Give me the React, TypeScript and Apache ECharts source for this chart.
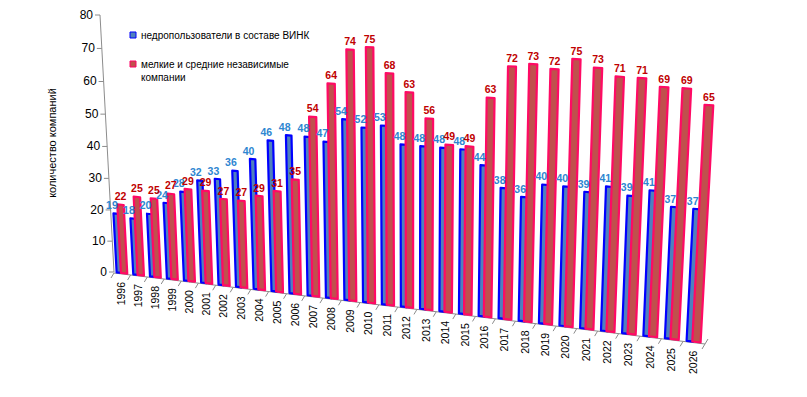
import React, { useEffect, useRef } from "react";
import * as echarts from "echarts";

const years = [
  "1996", "1997", "1998", "1999", "2000", "2001", "2002", "2003", "2004", "2005", "2006",
  "2007", "2008", "2009", "2010", "2011", "2012", "2013", "2014", "2015", "2016", "2017",
  "2018", "2019", "2020", "2021", "2022", "2023", "2024", "2025", "2026",
];
const vinkValues = [19, 18, 20, 24, 28, 32, 33, 36, 40, 46, 48, 48, 47, 54, 52, 53, 48, 48, 48, 48, 44, 38, 36, 40, 40, 39, 41, 39, 41, 37, 37];
const independentValues = [22, 25, 25, 27, 29, 29, 27, 27, 29, 31, 35, 54, 64, 74, 75, 68, 63, 56, 49, 49, 63, 72, 73, 72, 75, 73, 71, 71, 69, 69, 65];
const yTicks = [0, 10, 20, 30, 40, 50, 60, 70, 80];
const seriesNames = ["недропользователи в составе ВИНК", "мелкие и средние независимые компании"];
const legendLines = [["недропользователи в составе ВИНК"], ["мелкие и средние независимые", "компании"]];
const axisTitle = "количество компаний";

// perspective plane corners (layout): (u,v) unit square -> screen quad
const Q = { x0: 114, y0: 272, x1: 705, y1: 343, x2: 721, y2: 48, x3: 100, y3: 15 };

function makeHomography(q: typeof Q) {
  const { x0, y0, x1, y1, x2, y2, x3, y3 } = q;
  const dx1 = x1 - x2, dx2 = x3 - x2, dx3 = x0 - x1 + x2 - x3;
  const dy1 = y1 - y2, dy2 = y3 - y2, dy3 = y0 - y1 + y2 - y3;
  const den = dx1 * dy2 - dx2 * dy1;
  const g = (dx3 * dy2 - dx2 * dy3) / den;
  const h = (dx1 * dy3 - dx3 * dy1) / den;
  const a = x1 - x0 + g * x1, b = x3 - x0 + h * x3, c = x0;
  const d = y1 - y0 + g * y1, e = y3 - y0 + h * y3, f = y0;
  return (u: number, v: number): [number, number] => {
    const w = g * u + h * v + 1;
    return [(a * u + b * v + c) / w, (d * u + e * v + f) / w];
  };
}
const H = makeHomography(Q);

const FONT = '"Liberation Sans", Arial, sans-serif';

function toUV(cs: any, p: number[]) {
  return [(p[0] - cs.x) / cs.width, (cs.y + cs.height - p[1]) / cs.height];
}

function barGeom(params: any, api: any, offStart: number, offEnd: number) {
  const cs = params.coordSys;
  const idx = api.value(0);
  const val = api.value(1);
  const base = api.coord([idx, 0]);
  const top = api.coord([idx, val]);
  const band = api.size([1, 0])[0];
  const uStart = (base[0] - band / 2 - cs.x) / cs.width;
  const du = band / cs.width;
  const uL = uStart + offStart * du;
  const uR = uStart + offEnd * du;
  const vTop = toUV(cs, top)[1];
  return { val, uL, uR, vTop };
}

function barRenderer(offStart: number, offEnd: number, fill: string, stroke: string) {
  return (params: any, api: any) => {
    const { uL, uR, vTop } = barGeom(params, api, offStart, offEnd);
    const pts = [H(uL, 0), H(uR, 0), H(uR, vTop), H(uL, vTop)];
    return {
      type: "polygon",
      shape: { points: pts },
      style: { fill, stroke, lineWidth: 2.2, lineJoin: "round" },
    };
  };
}

function labelRenderer(offStart: number, offEnd: number, color: string, dx: number) {
  return (params: any, api: any) => {
    const { val, uL, uR, vTop } = barGeom(params, api, offStart, offEnd);
    const lp = H((uL + uR) / 2, vTop);
    return {
      type: "text",
      x: lp[0] + dx,
      y: lp[1] - 3,
      style: {
        text: String(val),
        fill: color,
        font: `bold 10.5px ${FONT}`,
        align: "center",
        verticalAlign: "bottom",
      },
    };
  };
}

function yAxisRenderer(params: any, api: any) {
  const cs = params.coordSys;
  const t = api.value(1);
  const v = toUV(cs, api.coord([0, t]))[1];
  const p = H(0, v);
  const children: any[] = [
    { type: "line", shape: { x1: p[0] - 5, y1: p[1], x2: p[0], y2: p[1] }, style: { stroke: "#8c8c8c", lineWidth: 1 } },
    {
      type: "text",
      x: p[0] - 7,
      y: p[1],
      style: { text: String(t), fill: "#000", font: `12px ${FONT}`, align: "right", verticalAlign: "middle" },
    },
  ];
  if (params.dataIndex === 0) {
    const a = H(0, 0), b = H(0, 1);
    children.push({ type: "line", shape: { x1: a[0], y1: a[1], x2: b[0], y2: b[1] }, style: { stroke: "#8c8c8c", lineWidth: 1 } });
  }
  return { type: "group", children };
}

function xAxisRenderer(params: any, api: any) {
  const cs = params.coordSys;
  const idx = api.value(0);
  const c = api.coord([idx, 0]);
  const band = api.size([1, 0])[0];
  const uC = (c[0] - cs.x) / cs.width;
  const uEdge = (c[0] + band / 2 - cs.x) / cs.width;
  const pc = H(uC, 0);
  const pe = H(uEdge, 0);
  const children: any[] = [
    { type: "line", shape: { x1: pe[0], y1: pe[1] + 1, x2: pe[0] - 3, y2: pe[1] + 6 }, style: { stroke: "#8c8c8c", lineWidth: 1 } },
    {
      type: "text",
      x: pc[0] - 1,
      y: pc[1] + 9,
      rotation: Math.PI / 2,
      style: { text: years[idx], fill: "#000", font: `10.5px ${FONT}`, align: "right", verticalAlign: "middle" },
    },
  ];
  if (params.dataIndex === 0) {
    const a = H(0, 0), b = H(1, 0);
    children.push({ type: "line", shape: { x1: a[0], y1: a[1] + 1, x2: b[0], y2: b[1] + 1 }, style: { stroke: "#8c8c8c", lineWidth: 1 } });
    children.push({ type: "line", shape: { x1: b[0], y1: b[1] + 1, x2: b[0] + 3, y2: b[1] - 4 }, style: { stroke: "#8c8c8c", lineWidth: 1 } });
    const a0 = H(0, 0);
    children.push({ type: "line", shape: { x1: a0[0], y1: a0[1] + 1, x2: a0[0] - 3, y2: a0[1] + 6 }, style: { stroke: "#8c8c8c", lineWidth: 1 } });
  }
  return { type: "group", children };
}

const BLUE_OFF: [number, number] = [0.16, 0.46];
const RED_OFF: [number, number] = [0.42, 0.8];

export default function App() {
  const ref = useRef<HTMLDivElement>(null);
  useEffect(() => {
    if (!ref.current) return;
    const chart = echarts.init(ref.current, null, { renderer: "svg" });
    const blueColor = "#4F81BD";
    const redColor = "#C0504D";
    chart.setOption({
      animation: false,
      backgroundColor: "#ffffff",
      grid: { left: 0, right: 0, top: 0, bottom: 0 },
      xAxis: { type: "category", data: years, show: false },
      yAxis: { type: "value", min: 0, max: 80, interval: 10, show: false },
      graphic: [
        { type: "rect", shape: { x: 130, y: 32, width: 6, height: 6 }, style: { fill: blueColor, stroke: "#0000FF", lineWidth: 1 } },
        { type: "text", x: 141, y: 35, style: { text: legendLines[0][0], fill: "#000", font: `10px ${FONT}`, align: "left", verticalAlign: "middle" } },
        { type: "rect", shape: { x: 130, y: 61, width: 6, height: 6 }, style: { fill: redColor, stroke: "#FF0066", lineWidth: 1 } },
        { type: "text", x: 141, y: 64, style: { text: legendLines[1][0], fill: "#000", font: `10px ${FONT}`, align: "left", verticalAlign: "middle" } },
        { type: "text", x: 141, y: 77, style: { text: legendLines[1][1], fill: "#000", font: `10px ${FONT}`, align: "left", verticalAlign: "middle" } },
        {
          type: "text",
          x: 52,
          y: 143,
          rotation: Math.PI / 2,
          style: { text: axisTitle, fill: "#000", font: `11px ${FONT}`, align: "center", verticalAlign: "middle" },
        },
      ],
      series: [
        {
          type: "custom",
          name: "yaxis",
          silent: true,
          data: yTicks.map((t) => [0, t]),
          renderItem: yAxisRenderer,
        },
        {
          type: "custom",
          name: "xaxis",
          silent: true,
          data: years.map((_, i) => [i, 0]),
          renderItem: xAxisRenderer,
        },
        {
          type: "custom",
          name: seriesNames[0],
          color: blueColor,
          data: vinkValues.map((v, i) => [i, v]),
          encode: { x: 0, y: 1 },
          renderItem: barRenderer(BLUE_OFF[0], BLUE_OFF[1], blueColor, "#0000FF"),
        },
        {
          type: "custom",
          name: seriesNames[1],
          color: redColor,
          data: independentValues.map((v, i) => [i, v]),
          encode: { x: 0, y: 1 },
          renderItem: barRenderer(RED_OFF[0], RED_OFF[1], redColor, "#FF0A64"),
        },
        {
          type: "custom",
          name: seriesNames[0] + " (подписи)",
          z: 10,
          silent: true,
          data: vinkValues.map((v, i) => [i, v]),
          encode: { x: 0, y: 1 },
          renderItem: labelRenderer(BLUE_OFF[0], BLUE_OFF[1], "#2E86D1", -4),
        },
        {
          type: "custom",
          name: seriesNames[1] + " (подписи)",
          z: 10,
          silent: true,
          data: independentValues.map((v, i) => [i, v]),
          encode: { x: 0, y: 1 },
          renderItem: labelRenderer(RED_OFF[0], RED_OFF[1], "#C00000", 0),
        },
      ],
    });
    return () => chart.dispose();
  }, []);
  return (
    <div
      ref={ref}
      style={{ position: "fixed", left: 0, top: 0, width: 807, height: 397, background: "#fff" }}
    />
  );
}
